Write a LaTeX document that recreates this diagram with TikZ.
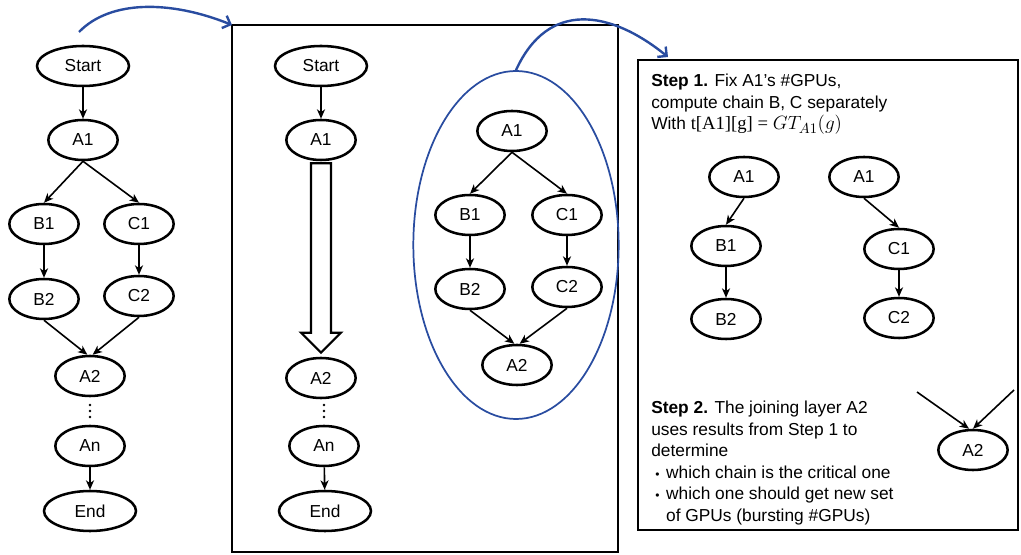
\documentclass[tikz,border=0pt]{standalone}
\usepackage{fontspec}
\setmainfont{Liberation Sans}
\newfontfamily\serifface{Liberation Serif}
\usetikzlibrary{shapes.geometric,arrows.meta,calc}
\definecolor{flowblue}{RGB}{41,76,160}
\tikzset{
  op/.style={draw, ellipse, line width=1.9pt, minimum width=52pt,
    minimum height=30pt, inner sep=0pt, font=\fontsize{13}{15}\selectfont},
  term/.style={op, minimum width=69pt},
  link/.style={-{Stealth[length=7pt,width=6pt,inset=2pt]}, line width=1.2pt},
  jump/.style={-{Straight Barb[length=5pt,width=10pt]}, flowblue, line width=1.8pt},
  panel/.style={line width=2pt},
  blockarrow/.style={draw, line width=1.6pt, fill=white, line join=miter},
  note/.style={anchor=north west, inner sep=0pt, align=left,
    font=\fontsize{13}{16.1}\selectfont},
}
% three dots standing for the layers left out
\newcommand\layerdots[1]{\foreach \d in {-6,0,6} \fill (#1) ++(0,\d) circle (1.4);}
\begin{document}
\begin{tikzpicture}[x=0.75pt,y=-0.75pt]
\useasboundingbox (0,0) rectangle (1021,555);

% whole graph
\node[term] (ls) at (83,66) {Start};
\node[op] (la1) at (83,140) {A1};
\node[op] (lb1) at (44,224) {B1};
\node[op] (lc1) at (139,224) {C1};
\node[op] (lb2) at (44,299) {B2};
\node[op] (lc2) at (139,296) {C2};
\node[op] (la2) at (90,376) {A2};
\coordinate (ldots) at (90,411);
\layerdots{ldots}
\node[op] (lan) at (90,446) {An};
\node[term] (le) at (90,511) {End};
\draw[link] (ls) -- (la1);
\draw[link] (la1.south) -- (lb1.north);
\draw[link] (la1.south) -- (lc1.north);
\draw[link] (lb1) -- (lb2);
\draw[link] (lc1) -- (lc2);
\draw[link] (lb2.south) -- ([xshift=-2pt]la2.north);
\draw[link] (lc2.south) -- ([xshift=2pt]la2.north);
\draw[link] (lan) -- (le);

% collapsed chain
\coordinate (mtl) at (232,25);
\coordinate (mbr) at (618,552);
\draw[panel] (mtl) rectangle (mbr);
\node[term] (ms) at (321,66) {Start};
\node[op] (ma1) at (321,140) {A1};
\node[op] (ma2) at (321,378) {A2};
\coordinate (mdots) at (324,411);
\layerdots{mdots}
\node[op] (man) at (324,446) {An};
\node[term] (me) at (325,511) {End};
\draw[link] (ms) -- (ma1);
\draw[link] (man) -- (me);
\draw[blockarrow] ($(ma1.south)+(-10,2)$) -- ($(ma2.north)+(-10,-24)$)
  -- ++(-10,0) -- ($(ma2.north)+(0,-4)$) -- ($(ma2.north)+(20,-24)$)
  -- ++(-10,0) -- ($(ma1.south)+(10,2)$) -- cycle;

\node[draw=flowblue, ellipse, line width=1.3pt, minimum width=154pt,
  minimum height=261pt] (grp) at (516,245) {};
\node[op] (ga1) at (512,131) {A1};
\node[op] (gb1) at (470,215) {B1};
\node[op] (gc1) at (567,215) {C1};
\node[op] (gb2) at (470,289) {B2};
\node[op] (gc2) at (567,287) {C2};
\node[op] (ga2) at (517,365) {A2};
\draw[link] (ga1.south) -- (gb1.north);
\draw[link] (ga1.south) -- (gc1.north);
\draw[link] (gb1) -- (gb2);
\draw[link] (gc1) -- (gc2);
\draw[link] (gb2.south) -- ([xshift=-2pt]ga2.north);
\draw[link] (gc2.south) -- ([xshift=2pt]ga2.north);

% steps
\coordinate (rtl) at (638,60);
\coordinate (rbr) at (1018,530);
\draw[panel] (rtl) rectangle (rbr);
\node[note] (step1) at (651,74) {\textbf{Step 1.} Fix A1’s \#GPUs,\\
  compute chain B, C separately\\
  With {\serifface\fontsize{14}{16.1}\selectfont t[A1][g] =}\
  {\fontsize{15}{16.1}\selectfont$GT_{A1}(g)$}};
\node[op] (ra1) at (744,177) {A1};
\node[op] (rb1) at (726,246) {B1};
\node[op] (rb2) at (726,319) {B2};
\node[op] (ra1c) at (864,177) {A1};
\node[op] (rc1) at (899,249) {C1};
\node[op] (rc2) at (899,318) {C2};
\draw[link] (ra1.south) -- (rb1.north);
\draw[link] (rb1) -- (rb2);
\draw[link] (ra1c.south) -- (rc1.north);
\draw[link] (rc1) -- (rc2);

\node[note] (step2) at (651,401) {\textbf{Step 2.} The joining layer A2\\
  uses results from Step 1 to\\
  determine\\
  \hspace*{3pt}{\small\textbullet}\hspace{5pt}which chain is the critical one\\
  \hspace*{3pt}{\small\textbullet}\hspace{5pt}which one should get new set\\
  \hspace*{3pt}\phantom{\small\textbullet}\hspace{5pt}of GPUs (bursting \#GPUs)};
\node[op] (ra2) at (973,450) {A2};
\coordinate (rin1) at (917,392);
\coordinate (rin2) at (1014,390);
\draw[link] (rin1) -- ([xshift=-3pt]ra2.north);
\draw[link] (rin2) -- (ra2.north);

% hand-over arrows
\coordinate (lfrom) at (79,32);
\coordinate (rto) at (668,57);
\draw[jump] (lfrom) .. controls (110,0) and (170,0) .. (mtl);
\draw[jump] (grp.north) .. controls (548,0) and (610,10) .. (rto);
\end{tikzpicture}
\end{document}
